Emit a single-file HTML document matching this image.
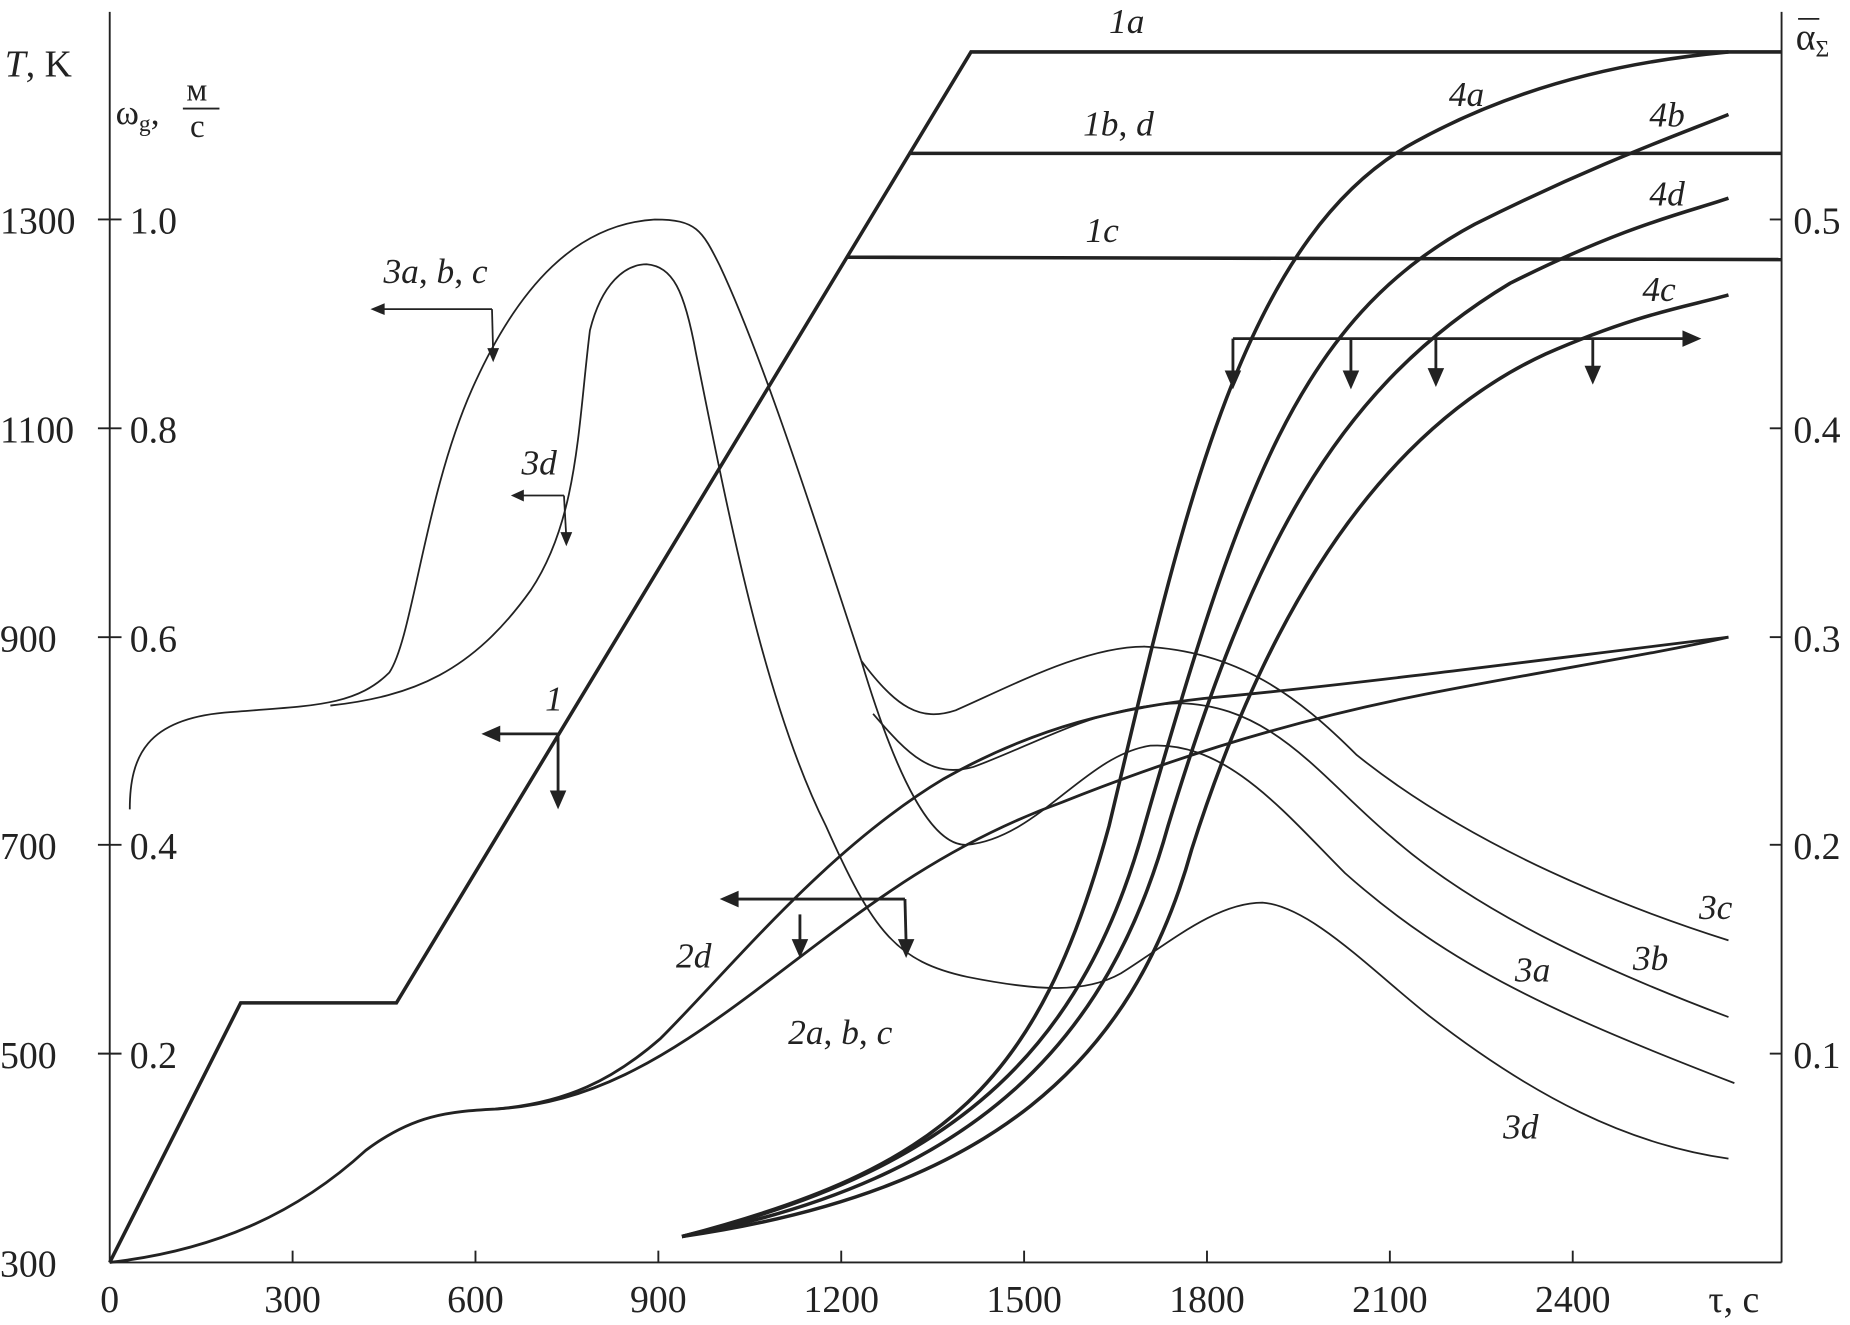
<!DOCTYPE html>
<html><head><meta charset="utf-8"><style>
html,body{margin:0;padding:0;background:#fff;}
svg{display:block;}
text{font-family:"Liberation Serif",serif;fill:#222;}
.it{font-style:italic;}
</style></head><body>
<svg width="1850" height="1325" viewBox="0 0 1568 1123" xmlns="http://www.w3.org/2000/svg">
<g stroke="#222" fill="none" stroke-width="1.6">
<line x1="93" y1="10" x2="93" y2="1070"/>
<line x1="93" y1="1070" x2="1510" y2="1070"/>
<line x1="1510" y1="10" x2="1510" y2="1070"/>
<line x1="83" y1="186" x2="103" y2="186"/><line x1="83" y1="363" x2="103" y2="363"/>
<line x1="83" y1="540" x2="103" y2="540"/><line x1="83" y1="716" x2="103" y2="716"/>
<line x1="83" y1="893" x2="103" y2="893"/>
<line x1="1500" y1="186" x2="1510" y2="186"/><line x1="1500" y1="363" x2="1510" y2="363"/>
<line x1="1500" y1="540" x2="1510" y2="540"/><line x1="1500" y1="716" x2="1510" y2="716"/>
<line x1="1500" y1="893" x2="1510" y2="893"/>
<line x1="248" y1="1060" x2="248" y2="1070"/><line x1="403" y1="1060" x2="403" y2="1070"/>
<line x1="558" y1="1060" x2="558" y2="1070"/><line x1="713" y1="1060" x2="713" y2="1070"/>
<line x1="868" y1="1060" x2="868" y2="1070"/><line x1="1023" y1="1060" x2="1023" y2="1070"/>
<line x1="1178" y1="1060" x2="1178" y2="1070"/><line x1="1333" y1="1060" x2="1333" y2="1070"/>
</g>
<g stroke="#222" fill="none" stroke-width="3">
<path d="M93,1070 L204,850 L336,850 L823,44 L1510,44"/>
<path d="M770,130 L1510,130"/>
<path d="M718,218 L1510,220"/>
<path d="M93,1070 C180,1060 250,1030 310,975 C350,945 380,942 420,940 C480,935 520,915 560,880 C620,820 700,720 800,660 C880,615 950,600 1020,592 C1150,580 1300,560 1465,540" stroke-width="2.4"/>
<path d="M420,940 C500,935 560,900 640,840 C720,780 790,720 900,680 C1000,640 1100,610 1200,590 C1300,570 1400,555 1465,540" stroke-width="2.4"/>
<path d="M578,1048 C800,990 880,920 940,700 C1000,450 1050,200 1200,120 C1300,65 1400,50 1465,44"/>
<path d="M578,1048 C820,990 920,880 970,700 C1050,420 1100,270 1250,190 C1350,140 1420,115 1465,97"/>
<path d="M578,1048 C830,1000 940,880 990,700 C1060,470 1130,330 1280,240 C1380,190 1430,180 1465,168"/>
<path d="M578,1048 C840,1010 960,900 1010,720 C1080,500 1180,360 1310,300 C1390,265 1430,260 1465,250"/>
</g>
<g stroke="#222" fill="none" stroke-width="1.5">
<path d="M110,686 C110,640 125,610 190,604 C260,598 300,600 330,570 C350,540 360,420 400,330 C440,240 490,190 555,186 C590,186 595,195 610,225 C650,310 700,470 730,560"/>
<path d="M730,560 C760,600 780,612 810,602 C860,580 920,548 970,548 C1050,552 1100,590 1150,640 C1250,720 1380,770 1465,797"/>
<path d="M740,605 C770,640 790,660 825,650 C880,630 930,598 1000,596 C1080,598 1120,660 1180,710 C1260,780 1380,830 1465,862"/>
<path d="M730,560 C760,660 790,718 820,716 C880,710 920,640 975,632 C1040,628 1090,690 1140,740 C1230,820 1320,860 1470,918"/>
<path d="M280,598 C350,590 400,570 450,500 C490,440 490,360 500,280 C510,240 530,224 548,224 C570,226 580,245 590,300 C620,450 650,600 700,700 C740,790 760,815 820,828 C880,840 920,842 950,825 C990,800 1030,765 1070,765 C1110,768 1160,820 1210,860 C1300,930 1380,970 1465,982"/>
<path d="M417,262 L320,262"/><path d="M417,262 L418,300"/>
<path d="M478,420 L440,420"/><path d="M478,420 L480,456"/>
</g>
<g stroke="#222" stroke-width="2.4" fill="none">
<path d="M473,622 L420,622"/><path d="M473,622 L473,676"/>
<path d="M767,762 L620,762"/><path d="M767,762 L768,800"/><path d="M678,775 L678,800"/>
<path d="M1045,287 L1430,287"/><path d="M1045,287 L1045,320"/><path d="M1145,287 L1145,320"/><path d="M1217,287 L1217,318"/><path d="M1350,287 L1350,316"/>
</g>
<g fill="#222">
<polygon points="314,262 326,257 326,267"/><polygon points="418,307 413,295 423,295"/>
<polygon points="433,420 444,415 444,425"/><polygon points="480,463 475,451 485,451"/>
<polygon points="408,622 424,615 424,629"/><polygon points="473,686 466,670 480,670"/>
<polygon points="610,762 626,755 626,769"/><polygon points="768,812 761,796 775,796"/><polygon points="678,812 671,796 685,796"/>
<polygon points="1442,287 1426,280 1426,294"/>
<polygon points="1045,330 1038,314 1052,314"/><polygon points="1145,330 1138,314 1152,314"/><polygon points="1217,328 1210,312 1224,312"/><polygon points="1350,326 1343,310 1357,310"/>
</g>
<g font-size="32">
<text x="0" y="1082">300</text><text x="0" y="905">500</text><text x="0" y="728">700</text><text x="0" y="552">900</text><text x="0" y="375">1100</text><text x="0" y="198">1300</text>
<text x="110" y="905">0.2</text><text x="110" y="728">0.4</text><text x="110" y="552">0.6</text><text x="110" y="375">0.8</text><text x="110" y="198">1.0</text>
<text x="1520" y="905">0.1</text><text x="1520" y="728">0.2</text><text x="1520" y="552">0.3</text><text x="1520" y="375">0.4</text><text x="1520" y="198">0.5</text>
<g text-anchor="middle">
<text x="93" y="1112">0</text><text x="248" y="1112">300</text><text x="403" y="1112">600</text><text x="558" y="1112">900</text><text x="713" y="1112">1200</text><text x="868" y="1112">1500</text><text x="1023" y="1112">1800</text><text x="1178" y="1112">2100</text><text x="1333" y="1112">2400</text>
</g>
<text x="1448" y="1112">τ, c</text>
<text x="4" y="65"><tspan class="it">T</tspan>, K</text>
<text x="98" y="105" font-size="30">ω<tspan font-size="20" dy="6">g</tspan><tspan dy="-6">,</tspan></text>
<text x="158" y="85" font-size="28">м</text>
<line x1="155" y1="92" x2="186" y2="92" stroke="#222" stroke-width="1.5"/>
<text x="161" y="116" font-size="28">с</text>
<text x="1522" y="42">α<tspan font-size="20" dy="6">Σ</tspan></text>
<line x1="1524" y1="16" x2="1542" y2="16" stroke="#222" stroke-width="1.5"/>
</g>
<g font-size="30" class="it">
<text x="940" y="28">1a</text><text x="918" y="115">1b<tspan font-style="normal">, </tspan>d</text><text x="920" y="205">1c</text>
<text x="325" y="240">3a<tspan font-style="normal">, </tspan>b<tspan font-style="normal">, </tspan>c</text>
<text x="442" y="402">3d</text><text x="462" y="602">1</text>
<text x="573" y="820">2d</text><text x="668" y="885">2a<tspan font-style="normal">, </tspan>b<tspan font-style="normal">, </tspan>c</text>
<text x="1228" y="90">4a</text><text x="1398" y="107">4b</text><text x="1398" y="174">4d</text><text x="1392" y="255">4c</text>
<text x="1440" y="779">3c</text><text x="1384" y="822">3b</text><text x="1284" y="832">3a</text><text x="1274" y="965">3d</text>
</g>
</svg>
</body></html>
